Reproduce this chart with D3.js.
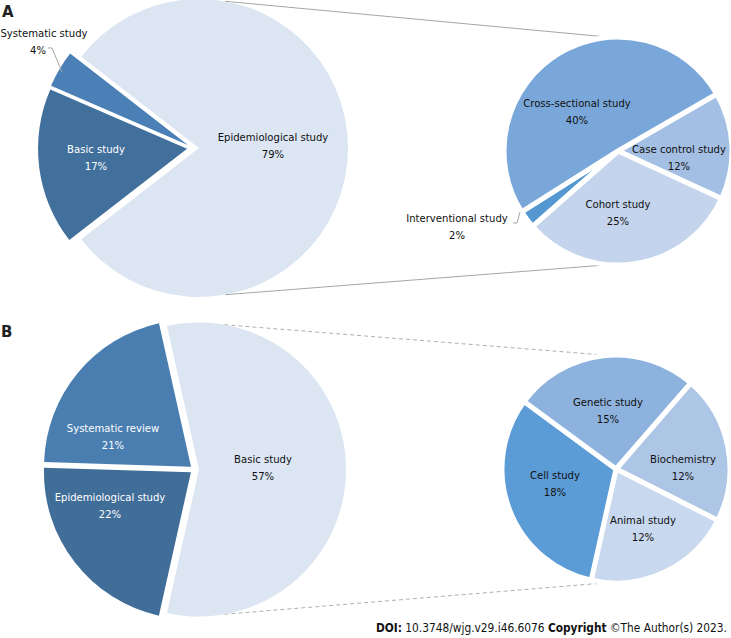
<!DOCTYPE html>
<html>
<head>
<meta charset="utf-8">
<script src="https://cdn.jsdelivr.net/npm/d3@7"></script>
<style>
  html, body { margin: 0; padding: 0; background: #fff; }
  svg { display: block; }
  .lbl { font-family: "DejaVu Sans Condensed", "DejaVu Sans", sans-serif; font-stretch: condensed; font-size: 11.2px; }
</style>
</head>
<body>
<svg id="chart" width="731" height="638"></svg>
<script>
// ---------- Data ----------
// Panel A primary pie
const aPrimaryCategories = ["Epidemiological study", "Basic study", "Systematic study"];
const aPrimaryValues = [79, 17, 4];
// Panel A secondary pie (breakdown of Epidemiological study)
const aSecondaryCategories = ["Case control study", "Cohort study", "Interventional study", "Cross-sectional study"];
const aSecondaryValues = [12, 25, 2, 40];
// Panel B primary pie
const bPrimaryCategories = ["Basic study", "Epidemiological study", "Systematic review"];
const bPrimaryValues = [57, 22, 21];
// Panel B secondary pie (breakdown of Basic study)
const bSecondaryCategories = ["Biochemistry", "Animal study", "Cell study", "Genetic study"];
const bSecondaryValues = [12, 12, 18, 15];

// ---------- Styles ----------
const aPrimaryColors = ["#dce5f2", "#41709c", "#4a80b6"];
const aSecondaryColors = ["#a3bfe3", "#c3d4ec", "#5597d0", "#7aa7d9"];
const bPrimaryColors = ["#dce5f2", "#416d99", "#4a7eb1"];
const bSecondaryColors = ["#aec6e6", "#c8d8ee", "#5b9bd6", "#8cb2dd"];

const svg = d3.select("#chart");
const deg = Math.PI / 180;

// primary pie: every slice exploded along its bisector
function primaryPie(cfg) {
  const total = d3.sum(cfg.values);
  const start = Math.PI / 2 - (cfg.values[0] / total) * Math.PI;
  const pie = d3.pie().sort(null).startAngle(start).endAngle(start + 2 * Math.PI);
  const arcs = pie(cfg.values);
  const arc = d3.arc().innerRadius(0).outerRadius(cfg.r);
  const g = svg.append("g");
  arcs.forEach((a, i) => {
    const mid = (a.startAngle + a.endAngle) / 2;
    const dx = cfg.explode * Math.sin(mid), dy = -cfg.explode * Math.cos(mid);
    g.append("path")
      .attr("transform", `translate(${cfg.cx + dx},${cfg.cy + dy})`)
      .attr("d", arc(a))
      .attr("fill", cfg.colors[i]);
  });
  return arcs;
}

function secondaryPie(cfg) {
  const pie = d3.pie().sort(null).startAngle(cfg.start * deg).endAngle(cfg.start * deg + 2 * Math.PI);
  const arcs = pie(cfg.values);
  const arc = d3.arc().innerRadius(0).outerRadius(cfg.r);
  const g = svg.append("g").attr("transform", `translate(${cfg.cx},${cfg.cy})`);
  g.selectAll("path").data(arcs).join("path")
    .attr("d", arc)
    .attr("fill", (d, i) => cfg.colors[i])
    .attr("stroke", "#fff")
    .attr("stroke-width", cfg.gap)
    .attr("stroke-linejoin", "miter");
  return arcs;
}

function label(x, y, lines, color) {
  const t = svg.append("text").attr("class", "lbl").attr("text-anchor", "middle").attr("fill", color);
  lines.forEach((s, i) => {
    t.append("tspan").attr("x", x).attr("y", y + i * 17.5).attr("dy", "0.35em").text(s);
  });
}

function pct(v) { return v + "%"; }

// ---------- Connectors ----------
function connectors(p, s, dashed) {
  const cx = p.cx + p.explode; // big slice is exploded to the right
  const a1 = 10 * deg, a2 = 170 * deg;
  const pts = [
    [[cx + p.r * Math.sin(a1), p.cy - p.r * Math.cos(a1)], [s.cx, s.cy - s.r + 1]],
    [[cx + p.r * Math.sin(a2), p.cy - p.r * Math.cos(a2)], [s.cx, s.cy + s.r - 1]]
  ];
  pts.forEach(([u, v]) => {
    svg.append("line")
      .attr("x1", u[0]).attr("y1", u[1]).attr("x2", v[0]).attr("y2", v[1])
      .attr("stroke", dashed ? "#b0b0b0" : "#a6a6a6")
      .attr("stroke-width", 1)
      .attr("stroke-dasharray", dashed ? "4,3" : null);
  });
}

// ---------- Panel A ----------
const aP = { cx: 193, cy: 148, r: 149, explode: 6, values: aPrimaryValues, colors: aPrimaryColors };
const aS = { cx: 618, cy: 151, r: 114, start: 60, gap: 5, values: aSecondaryValues, colors: aSecondaryColors };
connectors(aP, aS, false);
primaryPie(aP);
secondaryPie(aS);

// leader lines for small slices
svg.append("path").attr("d", "M48,48 L52,48 L62,72").attr("fill", "none").attr("stroke", "#a6a6a6").attr("stroke-width", 1);
svg.append("path").attr("d", "M513,223 L517,223 L520,212").attr("fill", "none").attr("stroke", "#a6a6a6").attr("stroke-width", 1);

label(273, 137, [aPrimaryCategories[0], pct(aPrimaryValues[0])], "#111");
label(96, 149, [aPrimaryCategories[1], pct(aPrimaryValues[1])], "#fff");
label(44, 33, [aPrimaryCategories[2]], "#111");
label(38, 50.5, [pct(aPrimaryValues[2])], "#111");

label(679, 149, [aSecondaryCategories[0], pct(aSecondaryValues[0])], "#111");
label(618, 204, [aSecondaryCategories[1], pct(aSecondaryValues[1])], "#111");
label(457, 218, [aSecondaryCategories[2], pct(aSecondaryValues[2])], "#111");
label(577, 103, [aSecondaryCategories[3], pct(aSecondaryValues[3])], "#111");

// ---------- Panel B ----------
const bP = { cx: 194.5, cy: 469.5, r: 147, explode: 4.5, values: bPrimaryValues, colors: bPrimaryColors };
const bS = { cx: 616, cy: 469, r: 114, start: 41, gap: 5, values: bSecondaryValues, colors: bSecondaryColors };
connectors(bP, bS, true);
primaryPie(bP);
secondaryPie(bS);

label(263, 459, [bPrimaryCategories[0], pct(bPrimaryValues[0])], "#111");
label(110, 497, [bPrimaryCategories[1], pct(bPrimaryValues[1])], "#fff");
label(113, 428, [bPrimaryCategories[2], pct(bPrimaryValues[2])], "#fff");

label(683, 459, [bSecondaryCategories[0], pct(bSecondaryValues[0])], "#111");
label(643, 520, [bSecondaryCategories[1], pct(bSecondaryValues[1])], "#111");
label(555, 475, [bSecondaryCategories[2], pct(bSecondaryValues[2])], "#111");
label(608, 402, [bSecondaryCategories[3], pct(bSecondaryValues[3])], "#111");

// ---------- Panel letters ----------
svg.append("text").attr("x", 2).attr("y", 17).attr("font-family", "DejaVu Sans, sans-serif")
  .attr("font-weight", "bold").attr("font-size", 15).attr("fill", "#222").text("A");
svg.append("text").attr("x", 1).attr("y", 337).attr("font-family", "DejaVu Sans, sans-serif")
  .attr("font-weight", "bold").attr("font-size", 15).attr("fill", "#222").text("B");

// ---------- Footer ----------
const foot = svg.append("text").attr("class", "lbl").attr("x", 727).attr("y", 632)
  .attr("text-anchor", "end").attr("fill", "#111").style("font-size", "11.8px");
foot.append("tspan").attr("font-weight", "bold").text("DOI:");
foot.append("tspan").text(" 10.3748/wjg.v29.i46.6076  ");
foot.append("tspan").attr("font-weight", "bold").text("Copyright");
foot.append("tspan").text(" \u00A9The Author(s) 2023.");
</script>
</body>
</html>
